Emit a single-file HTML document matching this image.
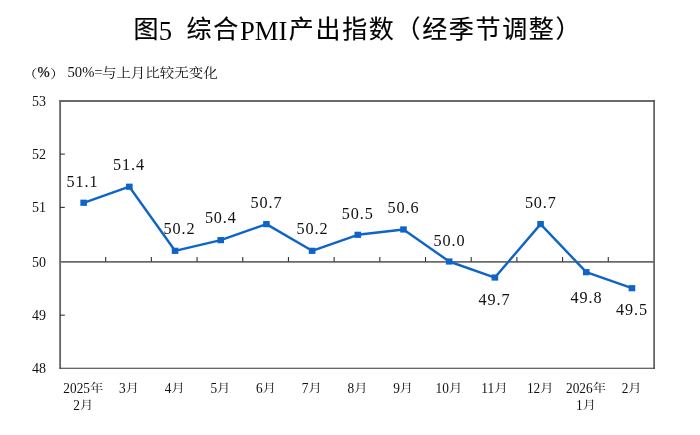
<!DOCTYPE html>
<html lang="zh-CN"><head><meta charset="utf-8"><title>图5 综合PMI产出指数（经季节调整）</title>
<style>
html,body{margin:0;padding:0;background:#fff;}
body{width:700px;height:435px;overflow:hidden;}
svg{display:block;}
.t{font-family:"Liberation Serif","Noto Sans CJK SC",sans-serif;fill:#000;}
.tc{font-size:25px;letter-spacing:1.67px;font-weight:400;stroke:#000;stroke-width:0.15px;}
.tl{font-size:26.67px;}
.s{font-family:"Liberation Serif","Noto Serif CJK SC",serif;font-size:14.67px;fill:#111;}
.y{font-family:"Liberation Serif",serif;font-size:14px;fill:#111;text-anchor:end;}
.d{font-family:"Liberation Serif",serif;font-size:16.2px;letter-spacing:0.9px;fill:#111;text-anchor:middle;}
.xd{font-family:"Liberation Serif",serif;font-size:13.33px;fill:#111;}
.xc{font-family:"Liberation Serif","Noto Serif CJK SC",serif;font-size:13.33px;fill:#111;}
</style></head><body>
<svg width="700" height="435" viewBox="0 0 700 435">
<rect width="700" height="435" fill="#fff"/>
<text class="t"><tspan class="tc" x="133.6" y="37.6">图</tspan><tspan class="tl" x="158.7" y="39.5">5</tspan><tspan class="tc" x="186.6" y="37.6">综合</tspan><tspan class="tl" x="240" y="39.5">PMI</tspan><tspan class="tc" x="288.8" y="37.6">产出指数（经季节调整）</tspan></text>
<text class="s" transform="translate(22.8,79.0) scale(1,0.82)">（</text>
<text class="s" x="37.5" y="77.4" stroke="#111" stroke-width="0.25">%</text>
<text class="s" transform="translate(49.9,79.0) scale(1,0.82)">）</text>
<text class="s" x="67.5" y="77.4">50%=</text>
<text class="s" font-size="14.5px" transform="translate(101.9,77.2) scale(1,0.9)" style="font-size:14.5px">与上月比较无变化</text>
<path d="M60.1,369 V100.05" fill="none" stroke="#6a6a6a" stroke-width="1.9"/>
<path d="M59.15,101 H654.9" fill="none" stroke="#6a6a6a" stroke-width="1.9"/>
<path d="M654.1,100.1 V368.8" fill="none" stroke="#555" stroke-width="1.6"/>
<path d="M60,368.3 H654.9" fill="none" stroke="#333" stroke-width="1.1"/>
<path d="M60,261.85 H654" stroke="#6a6a6a" stroke-width="1.9" fill="none"/>
<text class="y" x="46" y="373.10">48</text>
<path d="M60,315.20 H64.8" stroke="#333" stroke-width="1.1" fill="none"/>
<text class="y" x="46" y="320.10">49</text>
<text class="y" x="46" y="266.50">50</text>
<path d="M60,207.40 H64.8" stroke="#333" stroke-width="1.1" fill="none"/>
<text class="y" x="46" y="212.30">51</text>
<path d="M60,154.10 H64.8" stroke="#333" stroke-width="1.1" fill="none"/>
<text class="y" x="46" y="159.00">52</text>
<text class="y" x="46" y="105.90">53</text>
<path d="M105.69,261.85 V257" stroke="#333" stroke-width="1.1" fill="none"/>
<path d="M151.38,261.85 V257" stroke="#333" stroke-width="1.1" fill="none"/>
<path d="M197.07,261.85 V257" stroke="#333" stroke-width="1.1" fill="none"/>
<path d="M242.76,261.85 V257" stroke="#333" stroke-width="1.1" fill="none"/>
<path d="M288.45,261.85 V257" stroke="#333" stroke-width="1.1" fill="none"/>
<path d="M334.14,261.85 V257" stroke="#333" stroke-width="1.1" fill="none"/>
<path d="M379.83,261.85 V257" stroke="#333" stroke-width="1.1" fill="none"/>
<path d="M425.52,261.85 V257" stroke="#333" stroke-width="1.1" fill="none"/>
<path d="M471.21,261.85 V257" stroke="#333" stroke-width="1.1" fill="none"/>
<path d="M516.90,261.85 V257" stroke="#333" stroke-width="1.1" fill="none"/>
<path d="M562.59,261.85 V257" stroke="#333" stroke-width="1.1" fill="none"/>
<path d="M608.28,261.85 V257" stroke="#333" stroke-width="1.1" fill="none"/>
<polyline points="83.65,202.76 129.34,186.74 175.03,250.82 220.72,240.14 266.42,224.12 312.11,250.82 357.80,234.80 403.49,229.46 449.18,261.50 494.88,277.52 540.57,224.12 586.26,272.18 631.95,288.20" fill="none" stroke="#0F64C8" stroke-width="2.4" stroke-linejoin="round"/>
<rect x="80.35" y="199.66" width="6.6" height="6.2" fill="#0F64C8"/>
<rect x="126.04" y="183.64" width="6.6" height="6.2" fill="#0F64C8"/>
<rect x="171.73" y="247.72" width="6.6" height="6.2" fill="#0F64C8"/>
<rect x="217.42" y="237.04" width="6.6" height="6.2" fill="#0F64C8"/>
<rect x="263.12" y="221.02" width="6.6" height="6.2" fill="#0F64C8"/>
<rect x="308.81" y="247.72" width="6.6" height="6.2" fill="#0F64C8"/>
<rect x="354.50" y="231.70" width="6.6" height="6.2" fill="#0F64C8"/>
<rect x="400.19" y="226.36" width="6.6" height="6.2" fill="#0F64C8"/>
<rect x="445.88" y="258.40" width="6.6" height="6.2" fill="#0F64C8"/>
<rect x="491.58" y="274.42" width="6.6" height="6.2" fill="#0F64C8"/>
<rect x="537.27" y="221.02" width="6.6" height="6.2" fill="#0F64C8"/>
<rect x="582.96" y="269.08" width="6.6" height="6.2" fill="#0F64C8"/>
<rect x="628.65" y="285.10" width="6.6" height="6.2" fill="#0F64C8"/>
<text class="d" x="82.55" y="186.80">51.1</text>
<text class="d" x="128.95" y="169.70">51.4</text>
<text class="d" x="179.55" y="234.30">50.2</text>
<text class="d" x="220.85" y="223.30">50.4</text>
<text class="d" x="266.55" y="207.60">50.7</text>
<text class="d" x="312.55" y="234.30">50.2</text>
<text class="d" x="357.75" y="218.60">50.5</text>
<text class="d" x="403.55" y="212.90">50.6</text>
<text class="d" x="449.45" y="245.70">50.0</text>
<text class="d" x="494.55" y="305.00">49.7</text>
<text class="d" x="540.85" y="207.60">50.7</text>
<text class="d" x="586.45" y="302.60">49.8</text>
<text class="d" x="631.95" y="315.40">49.5</text>
<text class="xd" transform="translate(63.35,392.70) scale(1,1.07)">2025</text>
<text class="xc" transform="translate(90.01,392.00) scale(1,0.84)">年</text>
<text class="xd" transform="translate(73.35,409.70) scale(1,1.07)">2</text>
<text class="xc" transform="translate(80.01,409.00) scale(1,0.84)">月</text>
<text class="xd" transform="translate(119.04,392.70) scale(1,1.07)">3</text>
<text class="xc" transform="translate(125.71,392.00) scale(1,0.84)">月</text>
<text class="xd" transform="translate(164.73,392.70) scale(1,1.07)">4</text>
<text class="xc" transform="translate(171.40,392.00) scale(1,0.84)">月</text>
<text class="xd" transform="translate(210.43,392.70) scale(1,1.07)">5</text>
<text class="xc" transform="translate(217.09,392.00) scale(1,0.84)">月</text>
<text class="xd" transform="translate(256.12,392.70) scale(1,1.07)">6</text>
<text class="xc" transform="translate(262.78,392.00) scale(1,0.84)">月</text>
<text class="xd" transform="translate(301.81,392.70) scale(1,1.07)">7</text>
<text class="xc" transform="translate(308.48,392.00) scale(1,0.84)">月</text>
<text class="xd" transform="translate(347.50,392.70) scale(1,1.07)">8</text>
<text class="xc" transform="translate(354.17,392.00) scale(1,0.84)">月</text>
<text class="xd" transform="translate(393.19,392.70) scale(1,1.07)">9</text>
<text class="xc" transform="translate(399.86,392.00) scale(1,0.84)">月</text>
<text class="xd" transform="translate(435.55,392.70) scale(1,1.07)">10</text>
<text class="xc" transform="translate(448.88,392.00) scale(1,0.84)">月</text>
<text class="xd" transform="translate(481.25,392.70) scale(1,1.07)">11</text>
<text class="xc" transform="translate(494.58,392.00) scale(1,0.84)">月</text>
<text class="xd" transform="translate(526.94,392.70) scale(1,1.07)">12</text>
<text class="xc" transform="translate(540.27,392.00) scale(1,0.84)">月</text>
<text class="xd" transform="translate(565.97,392.70) scale(1,1.07)">2026</text>
<text class="xc" transform="translate(592.63,392.00) scale(1,0.84)">年</text>
<text class="xd" transform="translate(575.96,409.70) scale(1,1.07)">1</text>
<text class="xc" transform="translate(582.63,409.00) scale(1,0.84)">月</text>
<text class="xd" transform="translate(621.66,392.70) scale(1,1.07)">2</text>
<text class="xc" transform="translate(628.32,392.00) scale(1,0.84)">月</text>
</svg></body></html>
